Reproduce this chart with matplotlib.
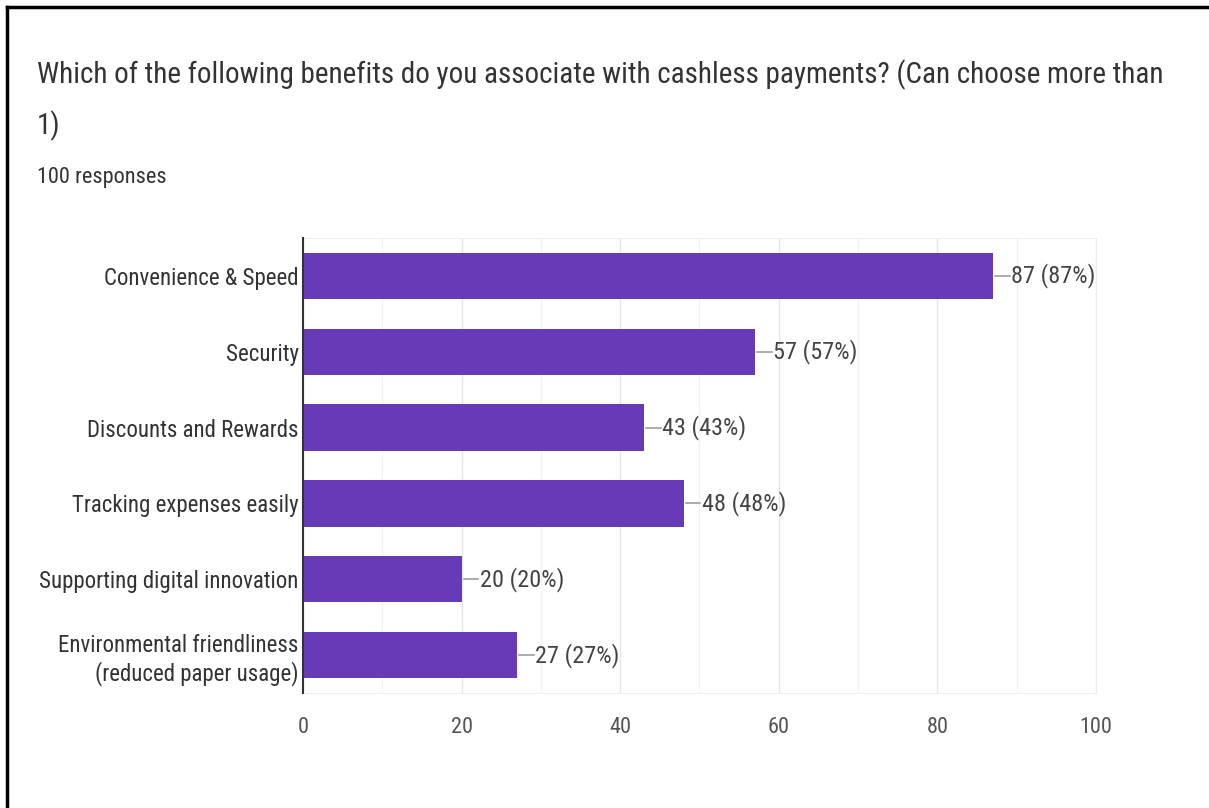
import matplotlib
import matplotlib.pyplot as plt
from matplotlib.lines import Line2D
from matplotlib.ticker import MultipleLocator

matplotlib.use('Agg')

# survey answers (multi-select, 100 respondents)
categories = [
    'Convenience & Speed',
    'Security',
    'Discounts and Rewards',
    'Tracking expenses easily',
    'Supporting digital innovation',
    'Environmental friendliness\n(reduced paper usage)',
]
counts = [87, 57, 43, 48, 20, 27]
total_responses = 100

question = ('Which of the following benefits do you associate with cashless payments? '
            '(Can choose more than\n1)')

FONT = ['Roboto Condensed', 'Archivo Narrow', 'DejaVu Sans']
BAR_COLOR = '#673ab7'
TEXT_DARK = '#333333'
TEXT_GRAY = '#444444'

plt.rcParams['font.family'] = FONT

fig = plt.figure(figsize=(12.09, 8.08), dpi=100)
ax = fig.add_axes([0.2506, 0.1423, 0.6559, 0.5631])

y = list(range(len(categories)))
ax.barh(y, counts, height=0.61, color=BAR_COLOR, zorder=3)

# value labels with a short leader line
for yi, c in zip(y, counts):
    ax.plot([c + 0.3, c + 2.1], [yi, yi], color='#9e9e9e', lw=1.2, zorder=3)
    ax.text(c + 2.3, yi, f'{c} ({c / total_responses:.0%})', va='center', ha='left',
            fontsize=17.5, color=TEXT_GRAY)

ax.set_xlim(0, 100)
ax.set_ylim(len(categories) - 0.5, -0.5)
ax.set_yticks(y)
ax.set_yticklabels(categories, fontsize=16.5, color=TEXT_DARK, linespacing=1.2)
ax.xaxis.set_major_locator(MultipleLocator(20))
ax.xaxis.set_minor_locator(MultipleLocator(10))
ax.tick_params(axis='x', labelsize=16, labelcolor='#555555', length=0, pad=17)
ax.tick_params(axis='x', which='minor', length=0)
ax.tick_params(axis='y', length=0, pad=3)

ax.grid(axis='x', which='major', color='#e6e6e6', lw=1, zorder=0)
ax.grid(axis='x', which='minor', color='#f2f2f2', lw=1, zorder=0)
for side in ('top', 'right', 'bottom'):
    ax.spines[side].set_color('#eeeeee')
ax.spines['left'].set_color('#333333')
ax.spines['left'].set_linewidth(1.5)
ax.spines['left'].set_zorder(4)

fig.text(0.0306, 0.876, question, fontsize=21, color=TEXT_DARK, va='center',
         ha='left', linespacing=1.85)
fig.text(0.0306, 0.780, f'{total_responses} responses', fontsize=16,
         color=TEXT_DARK, va='center', ha='left')

# frame lines along the top and left edge
fig.add_artist(Line2D([0.0058, 0.0058], [0, 0.9913], transform=fig.transFigure,
                      color='black', lw=2.5))
fig.add_artist(Line2D([0.0058, 1.0], [0.9913, 0.9913], transform=fig.transFigure,
                      color='black', lw=2.5))

fig.savefig('out.png', dpi=100)
